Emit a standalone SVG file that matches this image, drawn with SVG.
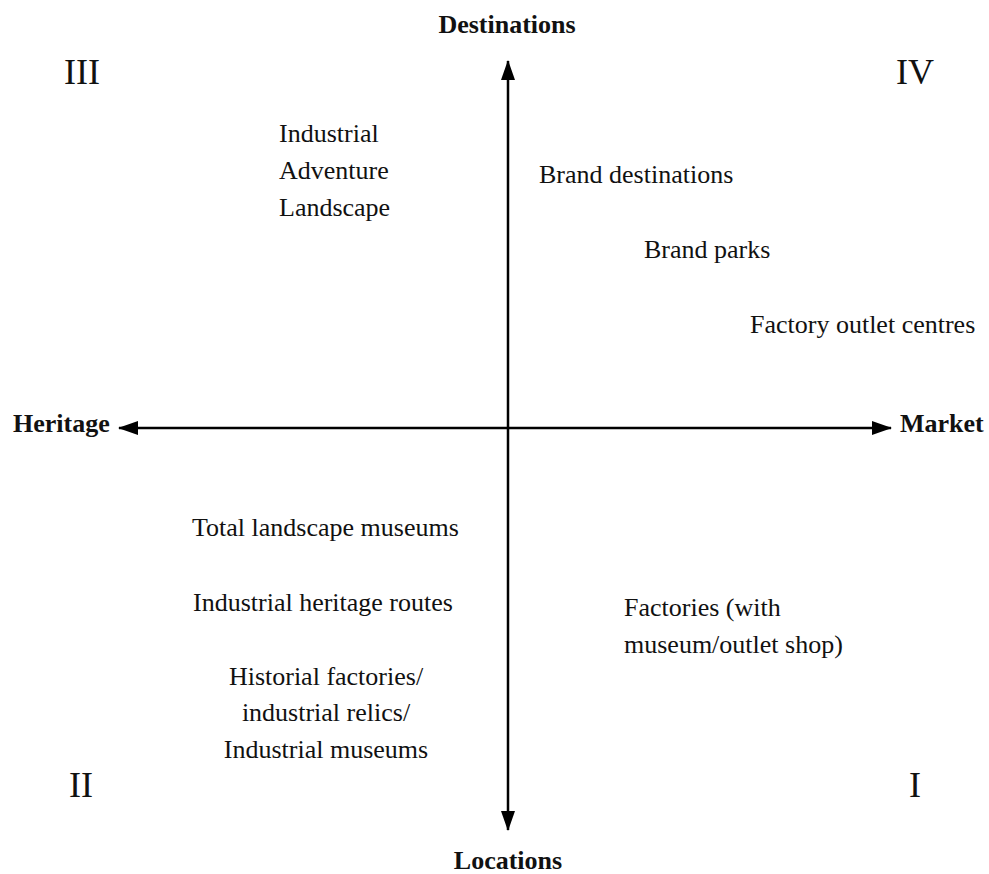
<svg xmlns="http://www.w3.org/2000/svg" width="989" height="874" viewBox="0 0 989 874">
<defs>
<style>
text{font-family:"Liberation Serif","Times New Roman",serif;fill:#111;}
.lbl{font-size:26px;}
.axis{font-size:26px;font-weight:bold;}
.quad{font-size:36px;}
.ln{stroke:#000;stroke-width:2.5;fill:none;}
</style>
<marker id="ah" viewBox="0 0 20 14" refX="19" refY="7" markerWidth="20" markerHeight="14" markerUnits="userSpaceOnUse" orient="auto-start-reverse">
<path d="M0,0 L20,7 L0,14 z" fill="#000"/>
</marker>
</defs>
<rect width="989" height="874" fill="#fff"/>
<g id="connectors">
<line class="ln" x1="508" y1="830" x2="508" y2="61" marker-start="url(#ah)" marker-end="url(#ah)"/>
<line class="ln" x1="119" y1="428" x2="891" y2="428" marker-start="url(#ah)" marker-end="url(#ah)"/>
</g>
<g id="axis-destinations"><text class="axis" x="507" y="33" text-anchor="middle">Destinations</text></g>
<g id="axis-locations"><text class="axis" x="508" y="869" text-anchor="middle">Locations</text></g>
<g id="axis-heritage"><text class="axis" x="13" y="432">Heritage</text></g>
<g id="axis-market"><text class="axis" x="900" y="432">Market</text></g>
<g id="q3"><text class="quad" x="64" y="84">III</text></g>
<g id="q4"><text class="quad" x="896" y="84">IV</text></g>
<g id="q2"><text class="quad" x="69" y="797">II</text></g>
<g id="q1"><text class="quad" x="909" y="797">I</text></g>
<g id="industrial-adventure-landscape">
<text class="lbl" x="279" y="142">Industrial</text>
<text class="lbl" x="279" y="179">Adventure</text>
<text class="lbl" x="279" y="216">Landscape</text>
</g>
<g id="brand-destinations"><text class="lbl" x="539" y="183">Brand destinations</text></g>
<g id="brand-parks"><text class="lbl" x="644" y="258">Brand parks</text></g>
<g id="factory-outlet-centres"><text class="lbl" x="750" y="333">Factory outlet centres</text></g>
<g id="total-landscape-museums"><text class="lbl" x="192" y="536">Total landscape museums</text></g>
<g id="industrial-heritage-routes"><text class="lbl" x="193" y="611">Industrial heritage routes</text></g>
<g id="historial-factories">
<text class="lbl" x="326" y="685" text-anchor="middle">Historial factories/</text>
<text class="lbl" x="326" y="721" text-anchor="middle">industrial relics/</text>
<text class="lbl" x="326" y="758" text-anchor="middle">Industrial museums</text>
</g>
<g id="factories">
<text class="lbl" x="624" y="616">Factories (with</text>
<text class="lbl" x="624" y="653">museum/outlet shop)</text>
</g>
</svg>
